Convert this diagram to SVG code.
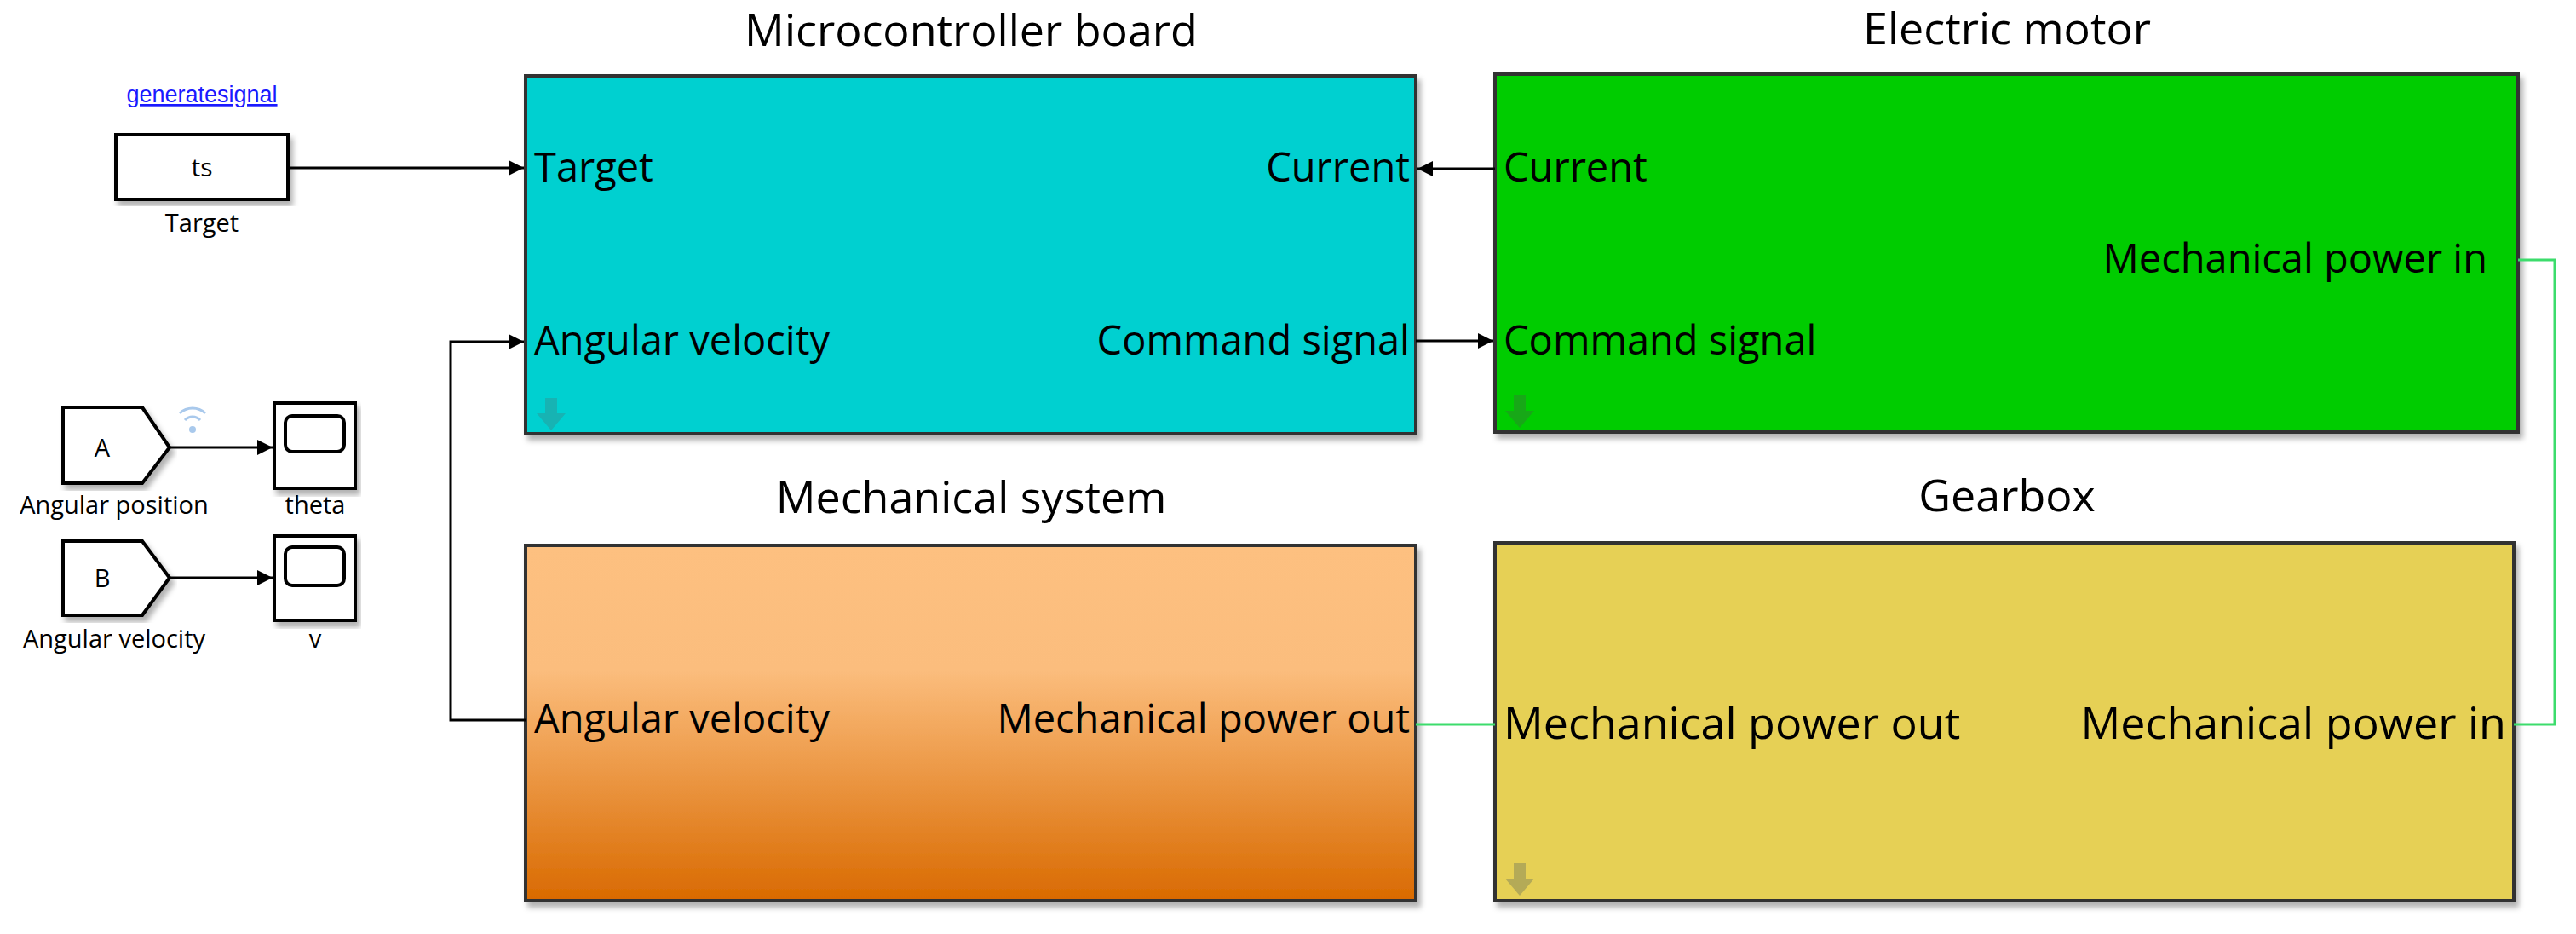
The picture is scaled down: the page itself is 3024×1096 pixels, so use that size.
<svg xmlns="http://www.w3.org/2000/svg" width="3024" height="1096" viewBox="0 0 3024 1096">
<style>
text{font-family:"Open Sans","Liberation Sans",sans-serif;fill:#000}
.title{font-size:52px;text-anchor:middle}
.port{font-size:47px}
.big{font-size:52px}
.small{font-size:29px;text-anchor:middle}
.blk{stroke:#333;stroke-width:4}
.sig{stroke:#000;stroke-width:3;fill:none}
.phys{stroke:#3cdc6c;stroke-width:3;fill:none}
.wb{fill:#fff;stroke:#000;stroke-width:4}
</style>
<defs>
<marker id="ah" viewBox="0 0 10 10" refX="10" refY="5" markerWidth="6" markerHeight="6" orient="auto"><path d="M0,0L10,5L0,10z" fill="#000"/></marker>
<linearGradient id="og" x1="0" y1="0" x2="0" y2="1"><stop offset="0" stop-color="#fdc080"/><stop offset="0.35" stop-color="#fbbd7d"/><stop offset="1" stop-color="#d96a00"/></linearGradient>
<filter id="sh" x="-5%" y="-5%" width="112%" height="115%"><feDropShadow dx="4" dy="6" stdDeviation="3" flood-color="#000" flood-opacity="0.3"/></filter>
<g id="darr"><path d="M-7,-20h14v18h10l-17,20l-17,-20h10z" fill-opacity="0.55"/></g>
</defs>

<g id="generatesignal-link"><text x="237" y="120" font-size="27" text-anchor="middle" style="fill:#1a1aff;font-family:'Liberation Sans',sans-serif" text-decoration="underline">generatesignal</text></g>

<g id="ts"><rect x="136" y="158" width="202" height="76" class="wb" filter="url(#sh)"/><text x="237" y="207" font-size="30" text-anchor="middle">ts</text><text x="237" y="272" class="small">Target</text></g>

<g id="gotoA"><path d="M74,478H167L199,525L167,567H74Z" class="wb" filter="url(#sh)"/><text x="120" y="536" font-size="29" text-anchor="middle">A</text><text x="134" y="603" class="small">Angular position</text>
<g fill="none" stroke="#a9c9ec" stroke-width="3"><path d="M211,485a22,22 0 0 1 30,0"/><path d="M217,493a12,12 0 0 1 18,0"/></g><circle cx="226" cy="504" r="4" fill="#a9c9ec"/></g>
<g id="theta"><rect x="322" y="473" width="95" height="100" class="wb" filter="url(#sh)"/><rect x="335" y="488" width="69" height="42" rx="8" fill="none" stroke="#000" stroke-width="4"/><text x="370" y="603" class="small">theta</text></g>

<g id="gotoB"><path d="M74,635H167L199,678L167,722H74Z" class="wb" filter="url(#sh)"/><text x="120" y="689" font-size="29" text-anchor="middle">B</text><text x="134" y="760" class="small">Angular velocity</text></g>
<g id="v"><rect x="322" y="629" width="95" height="99" class="wb" filter="url(#sh)"/><rect x="335" y="642" width="69" height="45" rx="8" fill="none" stroke="#000" stroke-width="4"/><text x="370" y="760" class="small">v</text></g>

<g id="micro"><text x="1140" y="54" class="title">Microcontroller board</text>
<rect x="617" y="89" width="1045" height="420" fill="#00d0d0" class="blk" filter="url(#sh)"/>
<text x="627" y="213" class="port">Target</text><text x="627" y="416" class="port">Angular velocity</text>
<text x="1655" y="213" class="port" text-anchor="end">Current</text><text x="1655" y="416" class="port" text-anchor="end">Command signal</text>
<use href="#darr" x="647" y="487" fill="#2a9a9a"/></g>

<g id="motor"><text x="2356" y="52" class="title">Electric motor</text>
<rect x="1755" y="87" width="1201" height="420" fill="#00cc00" class="blk" filter="url(#sh)"/>
<text x="1765" y="213" class="port">Current</text><text x="1765" y="416" class="port">Command signal</text>
<text x="2920" y="320" class="port" text-anchor="end">Mechanical power in</text>
<use href="#darr" x="1784" y="484" fill="#2a8a2a"/></g>

<g id="mech"><text x="1140" y="602" class="title">Mechanical system</text>
<rect x="617" y="640" width="1045" height="417" fill="url(#og)" class="blk" filter="url(#sh)"/>
<text x="627" y="860" class="port">Angular velocity</text>
<text x="1655" y="860" class="port" text-anchor="end">Mechanical power out</text></g>

<g id="gear"><text x="2356" y="600" class="title">Gearbox</text>
<rect x="1755" y="637" width="1196" height="420" fill="#e6d055" class="blk" filter="url(#sh)"/>
<text x="1765" y="867" class="big">Mechanical power out</text>
<text x="2942" y="867" class="big" text-anchor="end">Mechanical power in</text>
<use href="#darr" x="1784" y="1033" fill="#8a8a5a"/></g>

<g id="connectors">
<path d="M338,197H615" class="sig" marker-end="url(#ah)"/>
<path d="M199,525H320" class="sig" marker-end="url(#ah)"/>
<path d="M199,678H320" class="sig" marker-end="url(#ah)"/>
<path d="M1755,198H1664" class="sig" marker-end="url(#ah)"/>
<path d="M1662,400H1753" class="sig" marker-end="url(#ah)"/>
<path d="M617,845H529V401H615" class="sig" marker-end="url(#ah)"/>
<path d="M1662,850H1755" class="phys"/>
<path d="M2956,305H2999V850H2951" class="phys"/>
</g>
</svg>
